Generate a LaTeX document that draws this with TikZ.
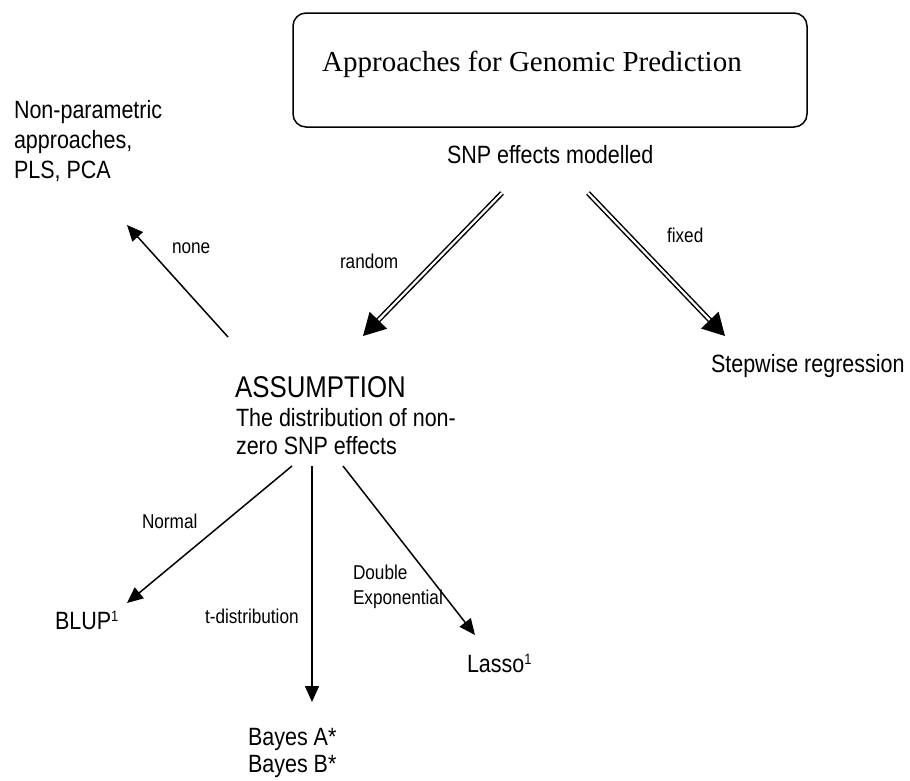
\documentclass[tikz,border=0pt]{standalone}
\usepackage{fontspec}
\setmainfont{Liberation Serif}
\newfontfamily\arialn[FakeStretch=0.86]{Liberation Sans}
\usetikzlibrary{arrows.meta}
\newcommand{\supone}{\raisebox{7.3pt}{\fontsize{15}{15}\selectfont 1}}
\begin{document}
\begin{tikzpicture}[x=1pt,y=-1pt,
  txt/.style={inner sep=0pt, outer sep=0pt, font=\arialn\fontsize{25}{30}\selectfont},
  lbl/.style={inner sep=0pt, outer sep=0pt, font=\arialn\fontsize{20}{25}\selectfont},
  arr/.style={line width=1.5pt, -{Triangle[length=16pt,width=14pt]}},
  dblarr/.style={line width=1.5pt, double, double distance=2.2pt, -{Triangle[length=22pt,width=24pt]}}
]
\useasboundingbox (0,0) rectangle (910,780);

% top box
\node[draw, line width=1.5pt, rounded corners=13pt, minimum width=514pt, minimum height=114pt, inner sep=0pt] (box) at (550,70) {};
\node[anchor=base west, inner sep=0pt, font=\fontsize{29}{34}\selectfont] (title) at (322,71) {Approaches for Genomic Prediction};
\node[txt, anchor=base west] (snp) at (447,163) {SNP effects modelled};

% left text
\node[txt, anchor=north west, align=left] (nonpar) at (14,100.8) {Non-parametric\\approaches,\\PLS, PCA};

% assumption
\node[anchor=base west, inner sep=0pt, font=\arialn\fontsize{30}{34}\selectfont] (assump) at (235,397) {ASSUMPTION};
\node[txt, anchor=north west, align=left, font=\arialn\fontsize{25}{28}\selectfont] (dist) at (236,408.8) {The distribution of non-\\zero SNP effects};

% right
\node[txt, anchor=base west] (step) at (711,372) {Stepwise regression};

% leaves
\node[txt, anchor=base west] (blup) at (55,629) {BLUP\supone};
\node[txt, anchor=base west] (lasso) at (467,672) {Lasso\supone};
\node[txt, anchor=north west, align=left, font=\arialn\fontsize{25}{27}\selectfont] (bayes) at (248,727.8) {Bayes A*\\Bayes B*};

% labels
\node[lbl, anchor=base west] (lnone) at (172,253) {none};
\node[lbl, anchor=base west] (lrandom) at (340,268) {random};
\node[lbl, anchor=base west] (lfixed) at (667,242) {fixed};
\node[lbl, anchor=base west] (lnormal) at (142,528) {Normal};
\node[lbl, anchor=base west] (lt) at (205,623) {t-distribution};
\node[lbl, anchor=north west, align=left] (lde) at (353,565.4) {Double\\Exponential};

% arrow end points
\coordinate (rS) at (502,193);
\coordinate (rE) at (363,336);
\coordinate (fS) at (588,193);
\coordinate (fE) at (725,336);
\coordinate (nS) at (228,337);
\coordinate (nE) at (127,225);
\coordinate (aS) at (292,466);
\coordinate (aE) at (127,603);
\coordinate (tS) at (312,466);
\coordinate (tE) at (312,702);
\coordinate (dS) at (343,466);
\coordinate (dE) at (475,635);

\draw[dblarr] (rS) -- (rE);
\draw[dblarr] (fS) -- (fE);
\draw[arr] (nS) -- (nE);
\draw[arr] (aS) -- (aE);
\draw[arr] (tS) -- (tE);
\draw[arr] (dS) -- (dE);
\end{tikzpicture}
\end{document}
